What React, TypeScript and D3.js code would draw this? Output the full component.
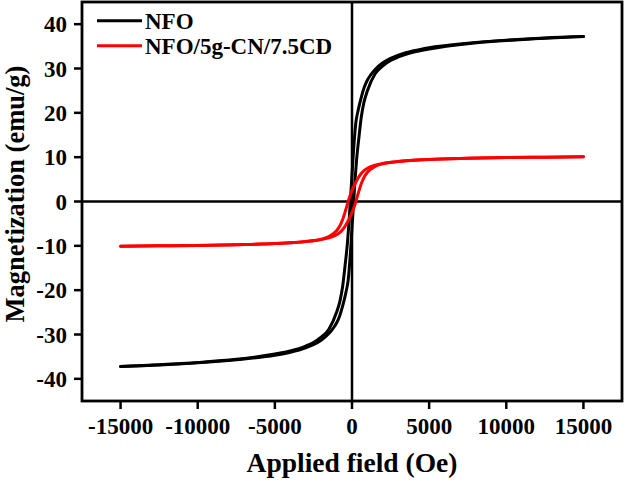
import React from "react";
import * as d3 from "d3";

const xTicks = [-15000, -10000, -5000, 0, 5000, 10000, 15000];
const yTicks = [-40, -30, -20, -10, 0, 10, 20, 30, 40];

// NFO - upper (descending field) branch, ordered by increasing H
const nfoUpperH = [-15000, -12500, -10000, -7500, -5000, -4000, -3000, -2500, -2000, -1500, -1000, -770, -600, -450, -300, -200, -100, 0, 100, 250, 400, 600, 800, 1000, 1200, 1500, 2000, 2500, 3000, 4000, 5000, 7500, 10000, 12500, 15000];
const nfoUpperM = [-37.2, -36.8, -36.3, -35.6, -34.4, -33.7, -32.6, -31.8, -30.6, -28.8, -25.0, -22.3, -19.0, -14.5, -9.5, -5.0, 0.5, 6.0, 11.5, 17.8, 20.6, 23.5, 25.8, 27.4, 28.5, 29.8, 31.3, 32.3, 33.0, 34.0, 34.7, 35.7, 36.4, 36.9, 37.2];
// NFO - lower (ascending field) branch
const nfoLowerH = [-15000, -12500, -10000, -7500, -5000, -4000, -3000, -2500, -2000, -1500, -1200, -1000, -800, -600, -400, -250, -100, 0, 100, 200, 300, 450, 600, 770, 1000, 1500, 2000, 2500, 3000, 4000, 5000, 7500, 10000, 12500, 15000];
const nfoLowerM = [-37.2, -36.9, -36.4, -35.7, -34.7, -34.0, -33.0, -32.3, -31.3, -29.8, -28.5, -27.4, -25.8, -23.5, -20.6, -17.8, -11.5, -6.0, -0.5, 5.0, 9.5, 14.5, 19.0, 22.3, 25.0, 28.8, 30.6, 31.8, 32.6, 33.7, 34.4, 35.6, 36.3, 36.8, 37.2];

// NFO/5g-CN/7.5CD - upper branch
const cdUpperH = [-15000, -12500, -10000, -7500, -5000, -3000, -2000, -1500, -1000, -800, -600, -400, -250, -100, 0, 200, 400, 600, 800, 1000, 1500, 2000, 2500, 3000, 4000, 5000, 7500, 10000, 12500, 15000];
const cdUpperM = [-10.1, -10.0, -9.9, -9.75, -9.5, -9.0, -8.5, -7.9, -6.6, -5.6, -4.0, -1.8, 0, 1.6, 2.5, 4.0, 5.3, 6.3, 7.0, 7.5, 8.2, 8.6, 8.85, 9.05, 9.3, 9.5, 9.75, 9.9, 10.0, 10.1];
// NFO/5g-CN/7.5CD - lower branch
const cdLowerH = [-15000, -12500, -10000, -7500, -5000, -4000, -3000, -2500, -2000, -1500, -1000, -800, -600, -400, -200, 0, 100, 250, 400, 600, 800, 1000, 1500, 2000, 3000, 5000, 7500, 10000, 12500, 15000];
const cdLowerM = [-10.1, -10.0, -9.9, -9.75, -9.5, -9.3, -9.05, -8.85, -8.6, -8.2, -7.5, -7.0, -6.3, -5.3, -4.0, -2.5, -1.6, 0, 1.8, 4.0, 5.6, 6.6, 7.9, 8.5, 9.0, 9.5, 9.75, 9.9, 10.0, 10.1];

const seriesNames = ["NFO", "NFO/5g-CN/7.5CD"];
const seriesColors = ["#000000", "#ff0000"];

const W = 625;
const H = 483;
const left = 82;
const right = 622;
const top = 2;
const bottom = 401;
const FONT = "'Liberation Serif', 'Times New Roman', serif";

export default function App() {
  const x = d3.scaleLinear().domain([-17500, 17500]).range([left, right]);
  const y = d3.scaleLinear().domain([-45, 45]).range([bottom, top]);
  const line = d3
    .line<[number, number]>()
    .x((d) => x(d[0]))
    .y((d) => y(d[1]))
    .curve(d3.curveMonotoneX);
  const zip = (a: number[], b: number[]) => a.map((v, i) => [v, b[i]] as [number, number]);

  const curves = [
    { pts: zip(nfoUpperH, nfoUpperM), c: seriesColors[0] },
    { pts: zip(nfoLowerH, nfoLowerM), c: seriesColors[0] },
    { pts: zip(cdUpperH, cdUpperM), c: seriesColors[1] },
    { pts: zip(cdLowerH, cdLowerM), c: seriesColors[1] },
  ];

  return (
    <svg
      width={W}
      height={H}
      style={{ position: "absolute", left: 0, top: 0, background: "#fff" }}
      fontFamily={FONT}
      fontWeight="bold"
    >
      <rect x={0} y={0} width={W} height={H} fill="#fff" />
      {/* zero lines */}
      <line x1={x(0)} x2={x(0)} y1={top} y2={bottom} stroke="#000" strokeWidth={2.5} />
      <line x1={left} x2={right} y1={y(0)} y2={y(0)} stroke="#000" strokeWidth={2.5} />
      {curves.map((cv, i) => (
        <path key={i} d={line(cv.pts) || ""} fill="none" stroke={cv.c} strokeWidth={3} strokeLinejoin="round" strokeLinecap="round" />
      ))}
      {/* frame */}
      <rect x={left} y={top} width={right - left} height={bottom - top} fill="none" stroke="#000" strokeWidth={2.8} />
      {/* x ticks */}
      {xTicks.map((t) => (
        <g key={"x" + t}>
          <line x1={x(t)} x2={x(t)} y1={bottom} y2={bottom + 8} stroke="#000" strokeWidth={2.5} />
          <text x={x(t)} y={434} fontSize={23} textAnchor="middle">
            {t}
          </text>
        </g>
      ))}
      {/* y ticks */}
      {yTicks.map((t) => (
        <g key={"y" + t}>
          <line x1={left - 8} x2={left} y1={y(t)} y2={y(t)} stroke="#000" strokeWidth={2.5} />
          <text x={67} y={y(t)} dy="0.35em" fontSize={23} textAnchor="end">
            {t}
          </text>
        </g>
      ))}
      {/* axis titles */}
      <text x={(left + right) / 2} y={472} fontSize={27.5} textAnchor="middle">
        Applied field (Oe)
      </text>
      <text transform={`translate(24, 194) rotate(-90)`} fontSize={26.5} textAnchor="middle">
        Magnetization (emu/g)
      </text>
      {/* legend */}
      {seriesNames.map((n, i) => (
        <g key={n}>
          <line x1={97} x2={142} y1={20.7 + i * 25} y2={20.7 + i * 25} stroke={seriesColors[i]} strokeWidth={3} />
          <text x={145} y={20.7 + i * 25} dy="0.35em" fontSize={23}>
            {n}
          </text>
        </g>
      ))}
    </svg>
  );
}
